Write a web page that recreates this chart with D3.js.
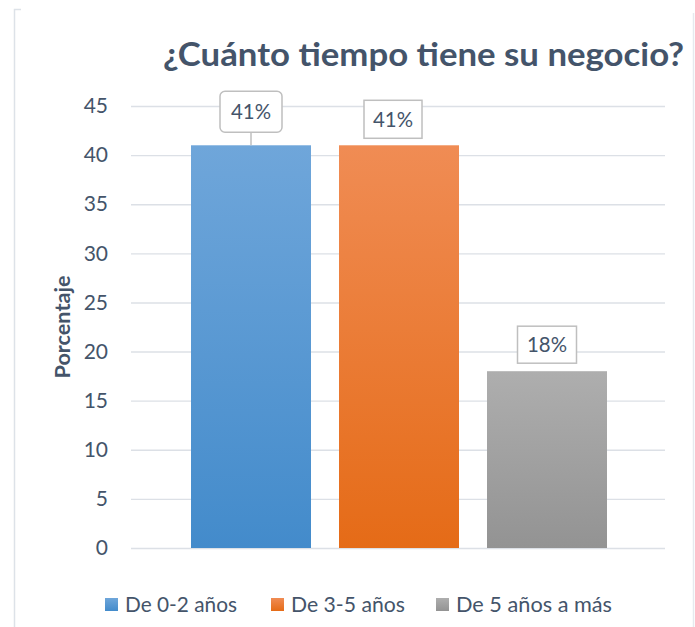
<!DOCTYPE html>
<html>
<head>
<meta charset="utf-8">
<script src="https://cdn.jsdelivr.net/npm/d3@7"></script>
<style>
  body { margin: 0; background: #fff; }
  text { font-family: Lato, "Open Sans", sans-serif; fill: #44546A; }
</style>
</head>
<body>
<svg id="chart" width="695" height="627"></svg>
<script>
const categories = ["De 0-2 años", "De 3-5 años", "De 5 años a más"];
const values = [41, 41, 18];
const labels = ["41%", "41%", "18%"];
const yTicks = [0, 5, 10, 15, 20, 25, 30, 35, 40, 45];
const colorsTop = ["#6FA6DA", "#F08C54", "#AEAEAE"];
const colorsBottom = ["#438BCB", "#E56B17", "#939393"];

const svg = d3.select("#chart");

// frame of the chart area (partly cropped in the original)
svg.append("path")
  .attr("d", "M14.5,627 V9.5 H21")
  .attr("fill", "none").attr("stroke", "#DDE2E8").attr("stroke-width", 1.5);
svg.append("line")
  .attr("x1", 693.5).attr("x2", 693.5).attr("y1", 13).attr("y2", 627)
  .attr("stroke", "#E6E9EE").attr("stroke-width", 1.5);

const defs = svg.append("defs");
categories.forEach((c, i) => {
  const gr = defs.append("linearGradient")
    .attr("id", "grad" + i)
    .attr("x1", 0).attr("x2", 0).attr("y1", 0).attr("y2", 1);
  gr.append("stop").attr("offset", "0%").attr("stop-color", colorsTop[i]);
  gr.append("stop").attr("offset", "100%").attr("stop-color", colorsBottom[i]);
});

const y = d3.scaleLinear().domain([0, 45]).range([548, 106]);
const x = d3.scaleBand().domain(categories)
  .range([177, 621]).paddingInner(0.1892).paddingOuter(0.0946);

// gridlines + y labels
const yAxis = svg.append("g")
  .attr("transform", "translate(131,0)")
  .call(d3.axisLeft(y).tickValues(yTicks).tickSize(-534).tickPadding(23));
yAxis.select(".domain").remove();
yAxis.selectAll(".tick line").attr("stroke", "#DCE0E6").attr("stroke-width", 1.4);
yAxis.selectAll(".tick text")
  .attr("font-size", 21).attr("fill", "#44546A")
  .style("font-family", "Lato, sans-serif");

// bars
svg.append("g").selectAll("rect")
  .data(values)
  .join("rect")
  .attr("x", (d, i) => x(categories[i]))
  .attr("y", d => y(d))
  .attr("width", x.bandwidth())
  .attr("height", d => y(0) - y(d))
  .attr("fill", (d, i) => `url(#grad${i})`);

// data labels: first one is a rounded callout with a leader line
const boxW = [62, 58, 59], boxH = [41, 38, 37], lift = [13, 7, 8];
const lab = svg.append("g").selectAll("g")
  .data(values)
  .join("g");
lab.each(function(d, i) {
  const g = d3.select(this);
  const cx = x(categories[i]) + x.bandwidth() / 2 + (i === 1 ? -6 : 0);
  const bottom = y(d) - lift[i];
  g.append("rect")
    .attr("x", cx - boxW[i] / 2)
    .attr("y", bottom - boxH[i])
    .attr("width", boxW[i]).attr("height", boxH[i])
    .attr("rx", i === 0 ? 5 : 0)
    .attr("fill", "#fff").attr("stroke", "#BFBFBF").attr("stroke-width", 1.5);
  if (i === 0) {
    g.append("line")
      .attr("x1", cx).attr("x2", cx)
      .attr("y1", bottom).attr("y2", y(d))
      .attr("stroke", "#BFBFBF").attr("stroke-width", 1.5);
  }
  g.append("text")
    .attr("x", cx).attr("y", bottom - boxH[i] / 2 + 7.5)
    .attr("text-anchor", "middle")
    .attr("font-size", 21)
    .attr("textLength", 40).attr("lengthAdjust", "spacingAndGlyphs")
    .text(labels[i]);
});

// title
svg.append("text")
  .attr("x", 163).attr("y", 66)
  .attr("font-size", 31.5).attr("font-weight", "bold")
  .attr("textLength", 521).attr("lengthAdjust", "spacingAndGlyphs")
  .text("¿Cuánto tiempo tiene su negocio?");

// axis title
svg.append("text")
  .attr("transform", "translate(70,327) rotate(-90)")
  .attr("text-anchor", "middle")
  .attr("font-size", 20).attr("font-weight", "bold")
  .attr("textLength", 103).attr("lengthAdjust", "spacingAndGlyphs")
  .text("Porcentaje");

// legend
const legX = [105, 271, 436];
const legW = [112, 114, 156];
const leg = svg.append("g").selectAll("g")
  .data(categories)
  .join("g")
  .attr("transform", (d, i) => `translate(${legX[i]},598)`);
leg.append("rect")
  .attr("width", 13).attr("height", 13)
  .attr("fill", (d, i) => `url(#grad${i})`);
leg.append("text")
  .attr("x", 20).attr("y", 14)
  .attr("font-size", 20.5)
  .attr("textLength", (d, i) => legW[i]).attr("lengthAdjust", "spacingAndGlyphs")
  .text(d => d);
</script>
</body>
</html>
